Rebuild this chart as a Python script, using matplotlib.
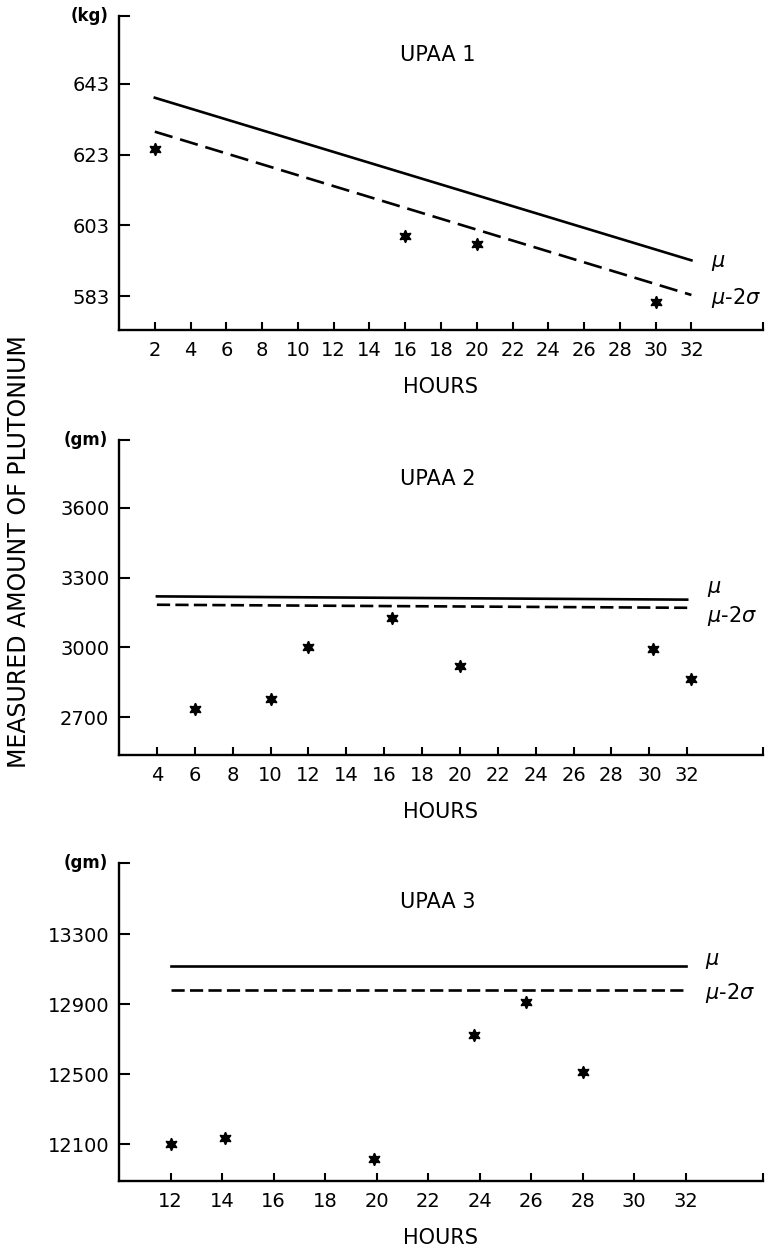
import matplotlib
matplotlib.use("Agg")
import matplotlib.pyplot as plt

# UPAA 1 (kg)
h1 = [2, 16, 20, 30]
v1 = [624.7, 599.9, 597.6, 581.3]
mu1_x = [2, 32]
mu1 = [639.1, 593.1]
lim1 = [629.5, 583.3]
yt1 = [583, 603, 623, 643]
xt1 = [2, 4, 6, 8, 10, 12, 14, 16, 18, 20, 22, 24, 26, 28, 30, 32]

# UPAA 2 (gm)
h2 = [6, 10, 12, 16.4, 20, 30.2, 32.2]
v2 = [2734, 2777, 3000, 3124, 2918, 2991, 2863]
mu2_x = [4, 32]
mu2 = [3219, 3205]
lim2 = [3183, 3170]
yt2 = [2700, 3000, 3300, 3600]
xt2 = [4, 6, 8, 10, 12, 14, 16, 18, 20, 22, 24, 26, 28, 30, 32]

# UPAA 3 (gm)
h3 = [12, 14.1, 19.9, 23.8, 25.8, 28]
v3 = [12100, 12134, 12014, 12726, 12914, 12510]
mu3_x = [12, 32]
mu3 = [13117, 13117]
lim3 = [12980, 12980]
yt3 = [12100, 12500, 12900, 13300]
xt3 = [12, 14, 16, 18, 20, 22, 24, 26, 28, 30, 32]

panels = [
    dict(h=h1, v=v1, mx=mu1_x, mu=mu1, lim=lim1, yt=yt1, xt=xt1, xlim=(0, 36),
         ylim=(573.4, 662.2), title="UPAA 1", unit="(kg)", rect=[0.154, 0.7356, 0.833, 0.2515],
         dash=(7, 3), off_mu=-2, off_lim=-2),
    dict(h=h2, v=v2, mx=mu2_x, mu=mu2, lim=lim2, yt=yt2, xt=xt2, xlim=(2, 36),
         ylim=(2537, 3891), title="UPAA 2", unit="(gm)", rect=[0.154, 0.395, 0.833, 0.2524],
         dash=(5, 2), off_mu=8, off_lim=-6),
    dict(h=h3, v=v3, mx=mu3_x, mu=mu3, lim=lim3, yt=yt3, xt=xt3, xlim=(10, 35),
         ylim=(11889, 13706), title="UPAA 3", unit="(gm)", rect=[0.154, 0.0537, 0.833, 0.2548],
         dash=(5, 2), off_mu=4, off_lim=-2),
]

fig = plt.figure(figsize=(7.73, 12.48), dpi=100)

for p in panels:
    ax = fig.add_axes(p["rect"])
    ax.plot(p["mx"], p["mu"], color="black", lw=1.9)
    ax.plot(p["mx"], p["lim"], color="black", lw=1.9, dashes=p["dash"])
    ax.plot(p["h"], p["v"], linestyle="none", marker=(6, 1, 0), color="black", markersize=9)
    ax.set_xlim(p["xlim"])
    ax.set_ylim(p["ylim"])
    ax.spines["top"].set_visible(False)
    ax.spines["right"].set_visible(False)
    ax.spines["left"].set_linewidth(1.7)
    ax.spines["bottom"].set_linewidth(1.7)
    # extra end ticks without labels (top of y axis, right end of x axis)
    ax.set_yticks(p["yt"] + [p["ylim"][1]])
    ax.set_yticklabels([str(t) for t in p["yt"]] + [""])
    ax.set_xticks(p["xt"] + [p["xlim"][1]])
    ax.set_xticklabels([str(t) for t in p["xt"]] + [""])
    ax.tick_params(axis="y", direction="in", length=8, width=1.5, pad=7, labelsize=14)
    ax.tick_params(axis="x", direction="in", length=6, width=1.5, pad=8, labelsize=14)
    ax.set_xlabel("HOURS", fontsize=15, labelpad=12)
    ax.text(0.495, 0.877, p["title"], transform=ax.transAxes, ha="center", va="center", fontsize=15)
    ax.text(-0.017, 1.0, p["unit"], transform=ax.transAxes, ha="right", va="center", fontsize=12,
            fontweight="bold")
    ax.annotate(r"$\mu$", xy=(p["mx"][1], p["mu"][1]), xytext=(14, p["off_mu"]),
                textcoords="offset points", ha="left", va="center", fontsize=15)
    ax.annotate(r"$\mu$-2$\sigma$", xy=(p["mx"][1], p["lim"][1]), xytext=(14, p["off_lim"]),
                textcoords="offset points", ha="left", va="center", fontsize=15)

fig.text(0.024, 0.558, "MEASURED AMOUNT OF PLUTONIUM", rotation=90, ha="center", va="center",
         fontsize=17)

fig.savefig("out.png", dpi=100)
